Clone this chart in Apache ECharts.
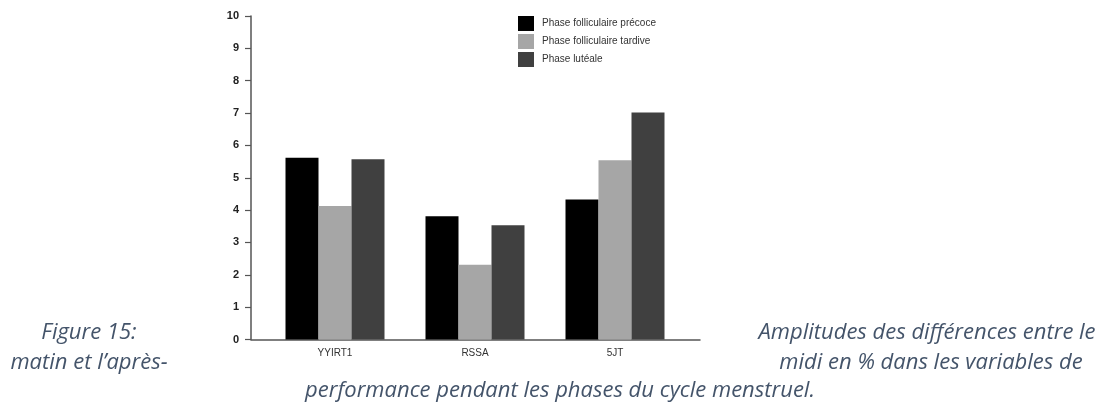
<!DOCTYPE html>
<html>
<head>
<meta charset="utf-8">
<script src="https://cdn.jsdelivr.net/npm/echarts@6/dist/echarts.min.js"></script>
<style>html,body{margin:0;padding:0;background:#fff;}#c{width:1100px;height:405px;}</style>
</head>
<body>
<div id="c"></div>
<script>
const categories = ['YYIRT1', 'RSSA', '5JT'];
const seriesNames = ['Phase folliculaire précoce', 'Phase folliculaire tardive', 'Phase lutéale'];
const earlyFollicular = [5.62, 3.81, 4.33];
const lateFollicular = [4.13, 2.31, 5.54];
const luteal = [5.57, 3.53, 7.02];
const yTicks = [0, 10, 1];
const captionLeft = ['Figure 15:', 'matin et l\u2019après-'];
const captionRight = ['Amplitudes des différences entre le', 'midi en % dans les variables de'];
const captionBottom = 'performance pendant les phases du cycle menstruel.';

const colors = ['#000000', '#a6a6a6', '#404040'];
const capFont = 'italic 22px "Open Sans"';
const capColor = '#44546a';

function cap(text, x, y) {
  return {type: 'text', x: x, y: y, silent: true,
    style: {text: text, font: capFont, fill: capColor, align: 'center', verticalAlign: 'middle'}};
}

const chart = echarts.init(document.getElementById('c'), null, {renderer: 'canvas'});
chart.setOption({
  animation: false,
  backgroundColor: '#ffffff',
  color: colors,
  legend: {
    orient: 'vertical', left: 518, top: 16, padding: 0,
    icon: 'rect', itemWidth: 16, itemHeight: 15, itemGap: 3,
    textStyle: {fontSize: 10, color: '#333', fontFamily: 'Liberation Sans', padding: [0,0,0,3]},
    data: seriesNames
  },
  grid: [
    {left: 265, right: 415, top: 16, bottom: 65.5},
    {left: 251, right: 400, top: 16, bottom: 65.5}
  ],
  xAxis: [
    {gridIndex: 0, type: 'category', data: categories,
     axisLine: {show: false}, axisTick: {show: false},
     axisLabel: {margin: 9, fontSize: 10, color: '#333', fontFamily: 'Liberation Sans'}},
    {gridIndex: 1, type: 'value', min: 0, max: 1,
     axisLine: {show: true, lineStyle: {color: '#555', width: 1.5}},
     axisTick: {show: false}, axisLabel: {show: false}, splitLine: {show: false}}
  ],
  yAxis: [
    {gridIndex: 0, type: 'value', min: yTicks[0], max: yTicks[1], interval: yTicks[2], show: false},
    {gridIndex: 1, type: 'value', min: yTicks[0], max: yTicks[1], interval: yTicks[2],
     axisLine: {show: true, lineStyle: {color: '#555', width: 1.5}},
     axisTick: {show: true, length: 6, lineStyle: {color: '#555', width: 1.2}},
     axisLabel: {margin: 12, fontSize: 11, fontWeight: 'bold', color: '#222', fontFamily: 'Liberation Sans'},
     splitLine: {show: false}}
  ],
  series: [
    {name: seriesNames[0], type: 'bar', data: earlyFollicular, barWidth: 33, barGap: '0%', xAxisIndex: 0, yAxisIndex: 0},
    {name: seriesNames[1], type: 'bar', data: lateFollicular, barWidth: 33, barGap: '0%', xAxisIndex: 0, yAxisIndex: 0},
    {name: seriesNames[2], type: 'bar', data: luteal, barWidth: 33, barGap: '0%', xAxisIndex: 0, yAxisIndex: 0}
  ],
  graphic: [
    cap(captionLeft[0], 89, 333),
    cap(captionLeft[1], 89, 363),
    cap(captionRight[0], 927, 333),
    cap(captionRight[1], 931, 363),
    cap(captionBottom, 560, 391)
  ]
});
</script>
</body>
</html>
